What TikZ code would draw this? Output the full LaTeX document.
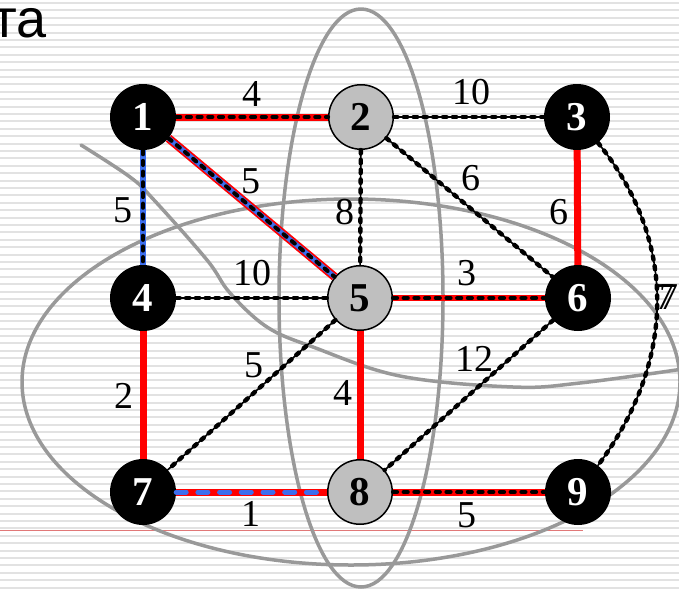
\documentclass[tikz,border=0pt]{standalone}
\usepackage{fontspec}
\setmainfont{Liberation Serif}
\newfontfamily\headfont{Liberation Sans}
\usepackage{tikz}

\definecolor{edgered}{RGB}{255,0,0}
\definecolor{edgeblue}{RGB}{60,110,238}
\definecolor{ringgray}{RGB}{153,153,153}
\definecolor{stripegray}{RGB}{226,226,226}
\definecolor{rulepink}{RGB}{225,120,120}

\begin{document}
\begin{tikzpicture}[x=1pt,y=-1pt,line cap=round,line join=round,
    vtx/.style={circle,inner sep=0pt,minimum size=66pt,
      font=\fontsize{41}{41}\selectfont\bfseries},
    dark/.style={vtx,fill=black,text=white},
    light/.style={vtx,draw=black,line width=1.5pt,fill=gray!50,minimum size=64.5pt},
    weight/.style={inner sep=0pt,font=\fontsize{38}{38}\selectfont},
    ring/.style={draw=ringgray,line width=3.5pt},
    beads/.style={black,line width=1.6pt,
      postaction={draw,line width=4.4pt,dash pattern=on 3.5pt off 6.3pt}},
    redline/.style={draw=edgered,line width=7pt,line cap=butt},
    redblack/.style={redline,
      postaction={draw=black,line width=4.2pt,line cap=round,dash pattern=on 4pt off 6.7pt}},
    redblue/.style={redline,
      postaction={draw=edgeblue,line width=5pt,line cap=round,dash pattern=on 10pt off 11.7pt}},
    blueblack/.style={draw=edgeblue,line width=6pt,line cap=butt,
      postaction={draw=black,line width=4.2pt,line cap=round,dash pattern=on 4pt off 6.7pt}},
    redblueblack/.style={redline,line width=8.5pt,
      postaction={draw=edgeblue,line width=5pt},
      postaction={draw=black,line width=4pt,line cap=round,dash pattern=on 4pt off 6.7pt}}]
    % The lined page behind the graph.
    \fill[white] (0,0) rectangle (679,589);
    \useasboundingbox (0,0) rectangle (679,589);
    \foreach \y in {3,10.4,...,589}
      \draw[stripegray,line width=2pt,line cap=butt] (0,\y) -- (679,\y);
    \draw[rulepink,line width=1.5pt,line cap=butt] (0,530.7) -- (583,530.7);
    \node (title) [anchor=base east,inner sep=0pt,
      font=\headfont\fontsize{54}{54}\selectfont] at (47,37) {та};

    % The grey rings round the parts of the graph.
    \draw[ring] (361,298) ellipse [x radius=82pt, y radius=289pt];
    \draw[ring] (351,382) ellipse [x radius=329pt, y radius=183pt];
    \draw[ring] plot[smooth,tension=0.6] coordinates {(81,145) (130,177) (154,200)
      (207,260) (230,293) (267,327) (313,347) (400,376) (513,387) (580,383) (690,368)};

    % The vertices.
    \node[dark]  (n1) at (143,117) {1};
    \node[light] (n2) at (361,117) {2};
    \node[dark]  (n3) at (577,117) {3};
    \node[dark]  (n4) at (143,298) {4};
    \node[light] (n5) at (360,298) {5};
    \node[dark]  (n6) at (578,298) {6};
    \node[dark]  (n7) at (143,492) {7};
    \node[light] (n8) at (360,492) {8};
    \node[dark]  (n9) at (578,492) {9};

    % The edges, the chosen ones in red.
    \draw[redblack] (n1) -- (n2);
    \draw[beads] (n2) -- (n3);
    \draw[blueblack] (n1) -- (n4);
    \draw[redblueblack] (n1) -- (n5);
    \draw[beads] (n2) -- (n5);
    \draw[beads] (n2) -- (n6);
    \draw[redline] (n3) -- (n6);
    \draw[beads] (n3) .. controls (677,240) and (677,360) .. (n9);
    \draw[beads] (n4) -- (n5);
    \draw[redblack,line width=5.5pt] (n5) -- (n6);
    \draw[redline] (n4) -- (n7);
    \draw[beads] (n5) -- (n7);
    \draw[redline] (n5) -- (n8);
    \draw[beads] (n6) -- (n8);
    \draw[redblue] (n7) -- (n8);
    \draw[redblack] (n8) -- (n9);

    % The weights.
    \node[weight] (w12) at (252,94) {4};
    \node[weight] (w23) at (471,92) {10};
    \node[weight] (w14) at (123,210) {5};
    \node[weight] (w15) at (251,181) {5};
    \node[weight] (w25) at (345,212) {8};
    \node[weight] (w26) at (471,178) {6};
    \node[weight] (w36) at (559,212) {6};
    \node[weight] (w39) at (665,297) {7};
    \node[weight] (w39b) at (669,297) {7};
    \node[weight] (w45) at (252,273) {10};
    \node[weight] (w56) at (467,273) {3};
    \node[weight] (w47) at (124,396) {2};
    \node[weight] (w57) at (254,365) {5};
    \node[weight] (w58) at (343,393) {4};
    \node[weight] (w68) at (474,359) {12};
    \node[weight] (w78) at (251,514) {1};
    \node[weight] (w89) at (467,515) {5};
  \end{tikzpicture}
\end{document}
